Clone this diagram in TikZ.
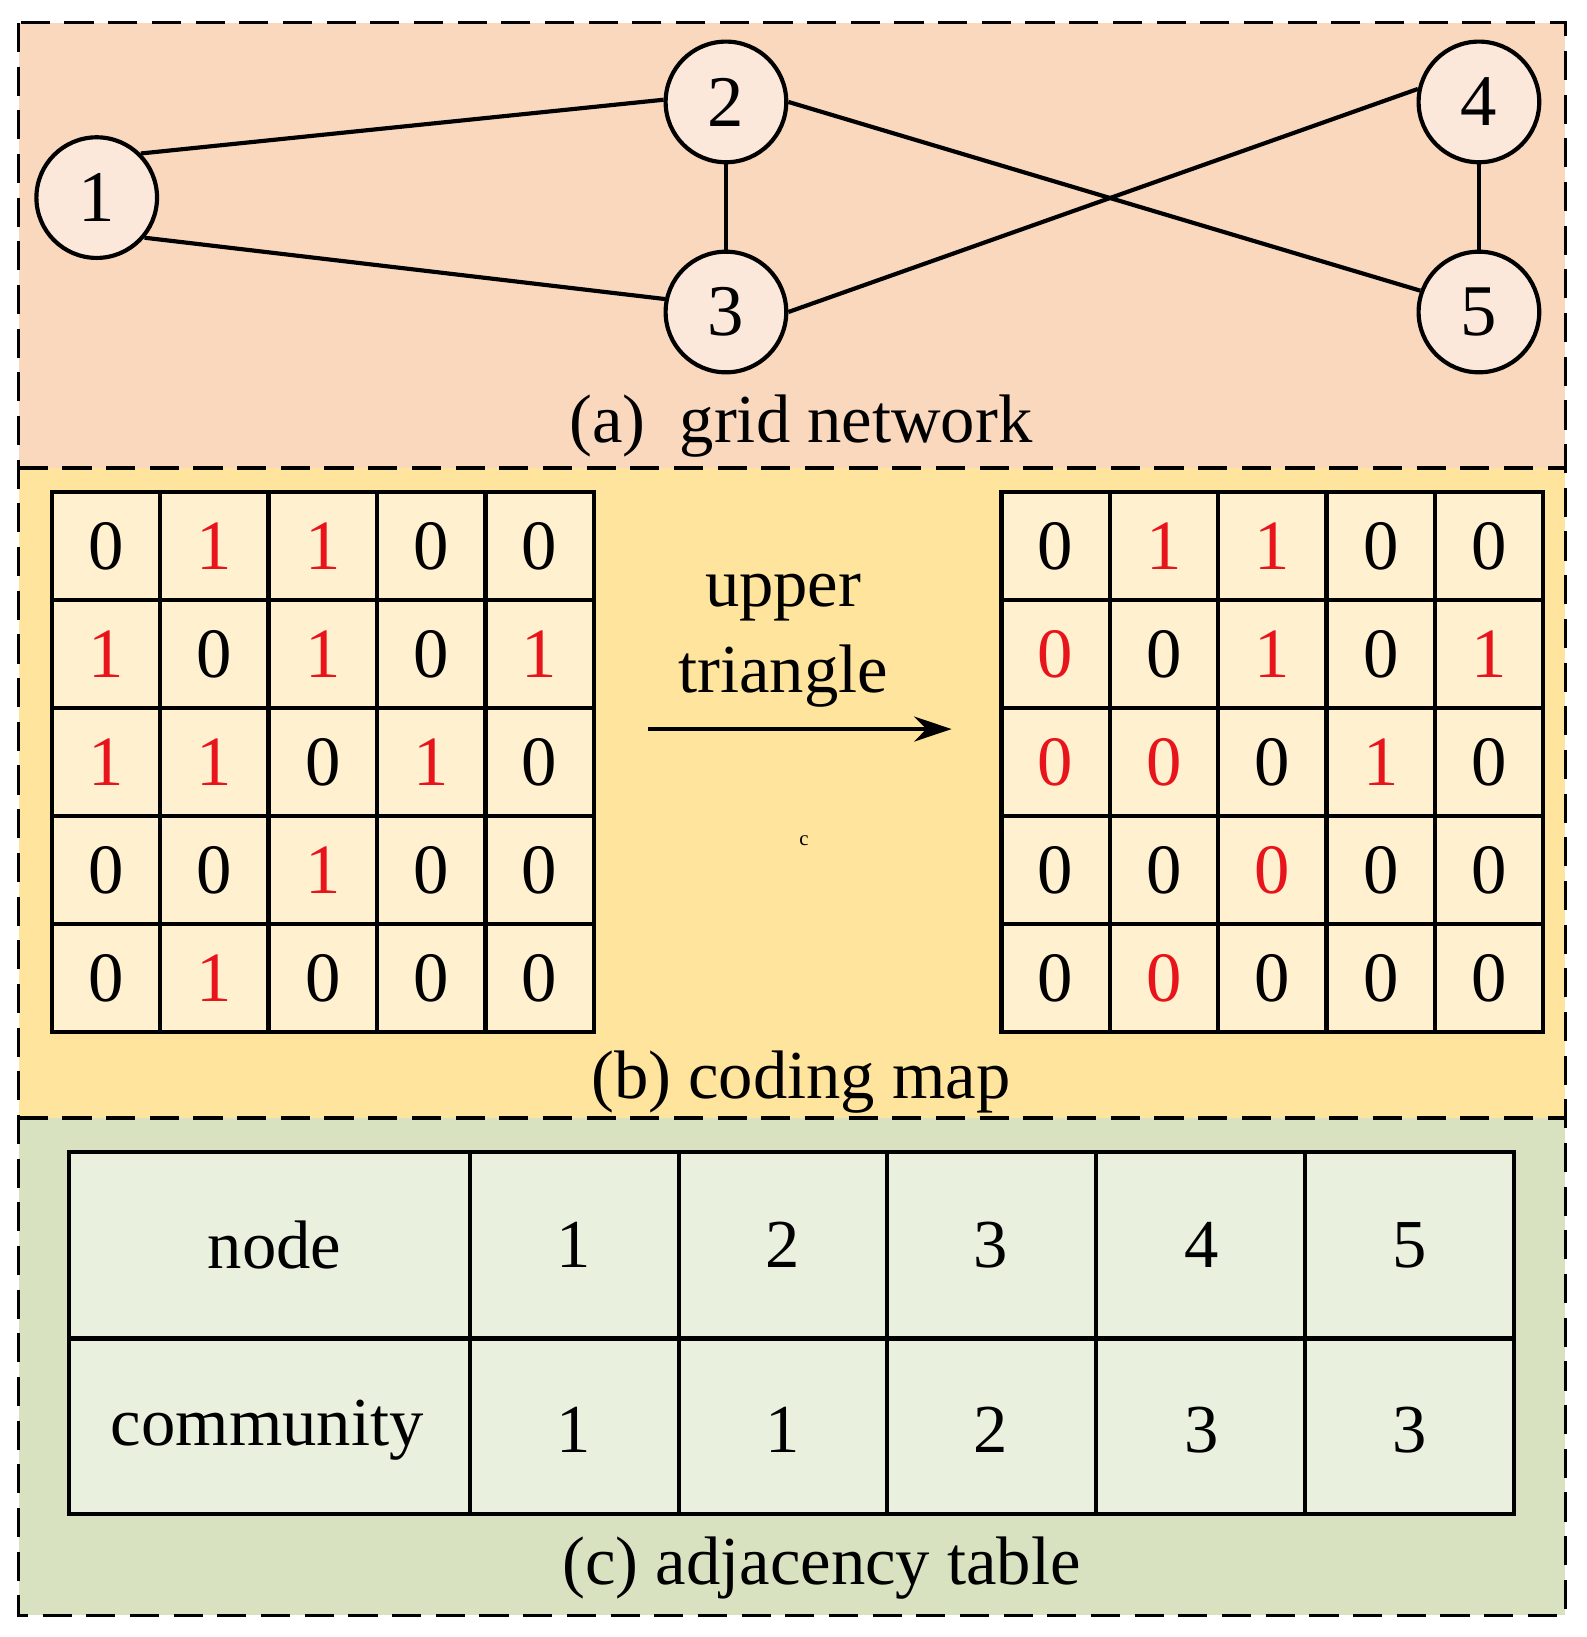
\documentclass[tikz,border=0pt]{standalone}
\usepackage{fontspec}
\setmainfont{Liberation Serif}
\usetikzlibrary{arrows.meta}
\begin{document}
\begin{tikzpicture}[x=0.5pt,y=-0.5pt,
  gn/.style={circle,draw,line width=2pt,fill=nodefill,minimum size=58pt,inner sep=0pt,font=\fontsize{35}{37}\selectfont},
  ed/.style={line width=2pt},
  cell/.style={draw,line width=2pt,fill=cellfill,minimum width=52pt,minimum height=52pt,inner sep=0pt,font=\fontsize{34}{36}\selectfont},
  lab/.style={font=\fontsize{33}{35}\selectfont},
  panel/.style={draw,line width=1.5pt,dash pattern=on 14pt off 7pt}]
\definecolor{pa}{HTML}{F9D8BE}\definecolor{pb}{HTML}{FFE49D}\definecolor{pc}{HTML}{D8E2C0}
\definecolor{nodefill}{HTML}{FCE8DA}\definecolor{cellfill}{HTML}{FFF1D0}\definecolor{tabfill}{HTML}{EAF0DE}
\definecolor{r}{HTML}{E8141B}
\colorlet{k}{black}
\useasboundingbox (0,0) rectangle (1525,1574);
\fill[pa] (18,22) rectangle (1505,450);
\fill[pb] (18,450) rectangle (1505,1075);
\fill[pc] (18,1075) rectangle (1505,1553);
\draw[panel] (18,22) rectangle (1505,1553);
\draw[panel] (18,450) -- (1505,450);
\draw[panel] (18,1075) -- (1505,1075);
% graph
\node[gn] (n1) at (93,190) {1};
\node[gn] (n2) at (698,98) {2};
\node[gn] (n3) at (698,300) {3};
\node[gn] (n4) at (1422,98) {4};
\node[gn] (n5) at (1422,300) {5};
\draw[ed] (n1.45)--(n2.178); \draw[ed] (n1.-40)--(n3.168); \draw[ed] (n2)--(n3);
\draw[ed] (n2.0)--(n5.160); \draw[ed] (n3.0)--(n4.168); \draw[ed] (n4)--(n5);
\node[lab] (la) at (770,410) {(a)\ \ grid network};
% matrices
\foreach \r/\row in {0/{0/k,1/r,1/r,0/k,0/k},1/{1/r,0/k,1/r,0/k,1/r},2/{1/r,1/r,0/k,1/r,0/k},3/{0/k,0/k,1/r,0/k,0/k},4/{0/k,1/r,0/k,0/k,0/k}}{
  \foreach \v/\c [count=\j from 0] in \row {
    \node[cell,text=\c] (L\r\j) at ({102+\j*104.2},{525+\r*103.8}) {\v};
  }}
\foreach \r/\row in {0/{0/k,1/r,1/r,0/k,0/k},1/{0/r,0/k,1/r,0/k,1/r},2/{0/r,0/r,0/k,1/r,0/k},3/{0/k,0/k,0/r,0/k,0/k},4/{0/k,0/r,0/k,0/k,0/k}}{
  \foreach \v/\c [count=\j from 0] in \row {
    \node[cell,text=\c] (R\r\j) at ({1015+\j*104.2},{525+\r*103.8}) {\v};
  }}
\coordinate (as) at (623,701); \coordinate (ae) at (915,701);
\draw[line width=2pt,-{Stealth[length=18pt,width=12pt]}] (as) -- (ae);
\node[lab] (up) at (753,575) {upper};
\node[lab] (tr) at (753,650) {triangle};
\node[font=\fontsize{10}{12}\selectfont] (cc) at (773,808) {c};
\node[lab] (lb) at (770,1040) {(b) coding map};
% table
\fill[tabfill] (66,1108) rectangle (1456,1456);
\draw[line width=2pt] (66,1108) rectangle (1456,1456);
\draw[line width=2pt] (66,1287) -- (1456,1287);
\foreach \x in {452,653,853,1054,1255} \draw[line width=2pt] (\x,1108) -- (\x,1456);
\foreach \t/\x [count=\i] in {node/264,1/552,2/753,3/953,4/1155,5/1355}
  \node[lab] (t\i) at (\x,1197) {\t};
\foreach \t/\x [count=\i] in {community/257,1/552,1/753,2/953,3/1155,3/1355}
  \node[lab] (c\i) at (\x,1375) {\t};
\node[lab] (lc) at (790,1508) {(c) adjacency table};
\end{tikzpicture}
\end{document}
